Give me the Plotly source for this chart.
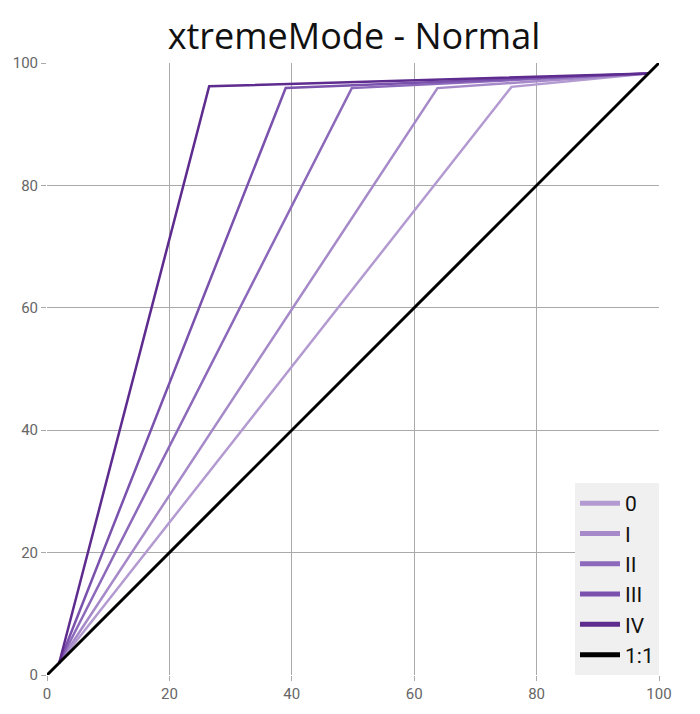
import plotly.graph_objects as go

series_names = ["0", "I", "II", "III", "IV"]
start_x = [2, 2, 2, 2, 2]
start_y = [2, 2, 2, 2, 2]
peak_x = [75.9, 63.8, 49.8, 39.0, 26.5]
peak_y = [96.1, 95.9, 95.9, 95.9, 96.2]
end_x = [98.2, 98.2, 98.2, 98.2, 98.2]
end_y = [98.3, 98.3, 98.3, 98.3, 98.3]
colors = ["#b39bd2", "#a689c9", "#8c69ba", "#7a52ad", "#5e2b8f"]
ref_name = "1:1"
ref_x = [0, 100]
ref_y = [0, 100]

fig = go.Figure()
for i, name in enumerate(series_names):
    fig.add_trace(go.Scatter(
        x=[start_x[i], peak_x[i], end_x[i]],
        y=[start_y[i], peak_y[i], end_y[i]],
        mode="lines", name=name, legendgroup=name, showlegend=False,
        line=dict(color=colors[i], width=2.5),
    ))
fig.add_trace(go.Scatter(x=ref_x, y=ref_y, mode="lines", name=ref_name,
                         legendgroup=ref_name, showlegend=False,
                         line=dict(color="black", width=3)))
# legend entries (thicker swatches, as in the reference)
for i, name in enumerate(series_names):
    fig.add_trace(go.Scatter(x=[None], y=[None], mode="lines", name=name,
                             legendgroup=name, line=dict(color=colors[i], width=5)))
fig.add_trace(go.Scatter(x=[None], y=[None], mode="lines", name=ref_name,
                         legendgroup=ref_name, line=dict(color="black", width=5)))

# the page body adds an 8px offset, so the figure is sized to fit the window
fig.update_layout(
    width=692, height=706,
    margin=dict(l=39, r=41, t=55, b=39),
    paper_bgcolor="white", plot_bgcolor="white",
    title=dict(text="xtremeMode - Normal", x=0.5, xanchor="center", y=0.978, yanchor="top",
               font=dict(family="Open Sans, Segoe UI, sans-serif", size=36, color="#111")),
    font=dict(family="Roboto, sans-serif", color="#666", size=15),
    showlegend=True,
    legend=dict(x=1, xanchor="right", y=0, yanchor="bottom",
                bgcolor="#f0f0f0", font=dict(size=21, color="#111", family="Roboto, sans-serif"),
                tracegroupgap=0, itemwidth=40),
)
axis_common = dict(range=[0, 100], dtick=20, showgrid=True, gridcolor="#aaaaaa", gridwidth=1,
                   zeroline=False, showline=False, ticks="outside", ticklen=5,
                   tickcolor="#aaaaaa", tickfont=dict(size=15, color="#666"), automargin=False)
fig.update_xaxes(**axis_common)
fig.update_yaxes(**axis_common)

fig.write_html("out.html")
